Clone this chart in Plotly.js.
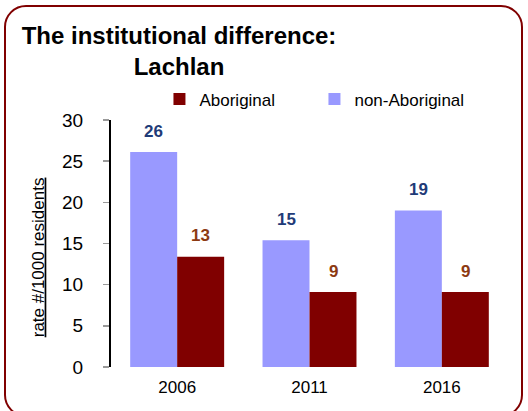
<!DOCTYPE html>
<html>
<head>
<meta charset="utf-8">
<script src="https://cdn.plot.ly/plotly-3.0.1.min.js"></script>
<style>
  html, body { margin: 0; padding: 0; background: #fff; }
  #wrap { position: relative; width: 528px; height: 411px; overflow: hidden; }
  #chart { position: absolute; left: 0; top: 0; width: 528px; height: 411px; }
  #frame { position: absolute; left: 4px; top: 5px; width: 519px; height: 412px;
           border: 2.5px solid #800000; border-radius: 22px; pointer-events: none; box-sizing: border-box; }
</style>
</head>
<body>
<div id="wrap">
  <div id="chart"></div>
  <div id="frame"></div>
</div>
<script>
const years = ['2006', '2011', '2016'];
const nonAboriginal = [26.1, 15.4, 19.0];
const aboriginal = [13.4, 9.1, 9.1];
const nonAbLabels = ['26', '15', '19'];
const abLabels = ['13', '9', '9'];
const yTicks = [0, 5, 10, 15, 20, 25, 30];

const FONT = 'Liberation Sans, Arial, Helvetica, sans-serif';

const traces = [
  { type: 'bar', name: 'non-Aboriginal', x: years, y: nonAboriginal,
    marker: { color: '#9999ff' }, hoverinfo: 'skip' },
  { type: 'bar', name: 'Aboriginal', x: years, y: aboriginal,
    marker: { color: '#800000' }, hoverinfo: 'skip' }
];

const annotations = [];
years.forEach((yr, i) => {
  // category axis: annotation x given as category index
  annotations.push({ x: i, y: nonAboriginal[i], xref: 'x', yref: 'y', text: '<b>' + nonAbLabels[i] + '</b>',
    showarrow: false, xshift: -23.5, yshift: 21, font: { family: FONT, size: 17, color: '#1f3b78' } });
  annotations.push({ x: i, y: aboriginal[i], xref: 'x', yref: 'y', text: '<b>' + abLabels[i] + '</b>',
    showarrow: false, xshift: 23.5, yshift: 21, font: { family: FONT, size: 17, color: '#8c3a12' } });
});
annotations.push({ x: -0.184, y: 0.444, xref: 'paper', yref: 'paper', text: '<u>rate #/1000 residents</u>',
  textangle: -90, showarrow: false, xanchor: 'center', yanchor: 'middle',
  font: { family: FONT, size: 17, color: '#000' } });

const layout = {
  width: 528, height: 411,
  margin: { l: 111, r: 20, t: 119.5, b: 44.3, pad: 0 },
  paper_bgcolor: 'rgba(0,0,0,0)', plot_bgcolor: 'rgba(0,0,0,0)',
  font: { family: FONT, color: '#000' },
  title: { text: '<b>The institutional difference:<br>Lachlan</b>', xref: 'container', yref: 'container',
    x: 0.339, xanchor: 'center', y: 0.893, yanchor: 'top', font: { family: FONT, size: 24, color: '#000' } },
  barmode: 'group', bargap: 0.29, bargroupgap: 0,
  showlegend: true,
  legend: { orientation: 'h', traceorder: 'reversed', xref: 'container', yref: 'container',
    x: 0.302, xanchor: 'left', y: 0.758, yanchor: 'middle', entrywidth: 110,
    font: { family: FONT, size: 17, color: '#000' }, bgcolor: 'rgba(0,0,0,0)' },
  xaxis: { type: 'category', range: [-0.5, 2.5], showline: false, ticks: '', showgrid: false, zeroline: false,
    ticklabelstandoff: 8, tickfont: { family: FONT, size: 17, color: '#000' } },
  yaxis: { range: [0, 30], tickvals: yTicks, showline: true, linecolor: '#000', linewidth: 2,
    ticks: 'outside', ticklen: 6, tickcolor: '#999', tickwidth: 1.5, showgrid: false, zeroline: false,
    ticklabelstandoff: 16, tickfont: { family: FONT, size: 19, color: '#000' } },
  annotations: annotations
};

Plotly.newPlot('chart', traces, layout, { staticPlot: true, displayModeBar: false });
</script>
</body>
</html>
